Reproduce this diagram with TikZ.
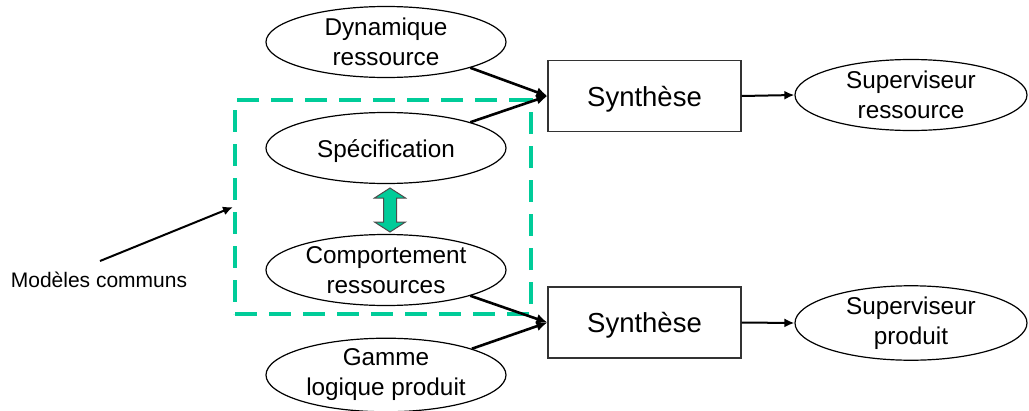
\documentclass[tikz,border=0pt]{standalone}
\usepackage{fontspec}
\setmainfont{Liberation Sans}
\usetikzlibrary{shapes.geometric,arrows.meta,calc}
\definecolor{vert}{RGB}{0,204,153}
\newcommand\lowtxt[1]{\raisebox{-3pt}[\height][\depth]{#1}}
\tikzset{
  ell/.style={ellipse, draw, line width=1.2pt, inner sep=0pt, minimum width=240pt, minimum height=71pt, align=center, font=\fontsize{24.3}{30}\selectfont},
  sup/.style={ellipse, draw, line width=1.2pt, inner sep=0pt, minimum width=232pt, minimum height=71pt, align=center, font=\fontsize{24.3}{30}\selectfont},
  synth/.style={rectangle, draw=black!80, line width=1.2pt, inner sep=0pt, minimum width=193pt, minimum height=71pt, font=\fontsize{27.5}{30}\selectfont},
  conn/.style={line width=2.6pt, -{Latex[length=11pt,width=10pt]}},
  conn2/.style={line width=2pt, -{Latex[length=10pt,width=9pt]}},
}
\begin{document}
\begin{tikzpicture}[x=1pt,y=-1pt]
\useasboundingbox (0,0) rectangle (1029,410);
\node[draw=vert, line width=4pt, dash pattern=on 22pt off 12pt, minimum width=296pt, minimum height=214pt, inner sep=0pt] (common) at (383,207) {};
\node[ell] (dyn) at (386,42) {Dynamique\\ressource};
\node[ell] (spec) at (386,148) {\lowtxt{Spécification}};
\node[ell] (comp) at (386,270) {Comportement\\ressources};
\node[ell] (gam) at (386,375) {Gamme\\logique produit};
\node[synth] (s1) at (644.5,96) {\lowtxt{Synthèse}};
\node[synth] (s2) at (644.5,322.5) {\lowtxt{Synthèse}};
\node[sup] (sr) at (911,95) {Superviseur\\ressource};
\node[sup] (sp) at (911,323) {Superviseur\\produit};
\node[font=\fontsize{21}{24}\selectfont, inner sep=0pt] (mc) at (99,280) {Modèles communs};
\coordinate (mcstart) at (100,261);
\coordinate (dac) at (390,210);
\draw[conn] (dyn.-17) -- (s1.west);
\draw[conn] (spec.17) -- (s1.west);
\draw[conn] (comp.-17) -- (s2.west);
\draw[conn] (gam.17) -- (s2.west);
\draw[conn2] (s1.east) -- (sr.west);
\draw[conn2] (s2.east) -- (sp.west);
\draw[conn2] (mcstart) -- (common.west);
\draw[fill=vert, draw=black!70, line width=1pt]
  ($(dac)+(0,-22)$) -- ++(15.5,10) -- ++(-9,0) -- ++(0,24) -- ++(9,0) -- ($(dac)+(0,22)$) -- ++(-15.5,-10) -- ++(9,0) -- ++(0,-24) -- ++(-9,0) -- cycle;
\end{tikzpicture}
\end{document}
